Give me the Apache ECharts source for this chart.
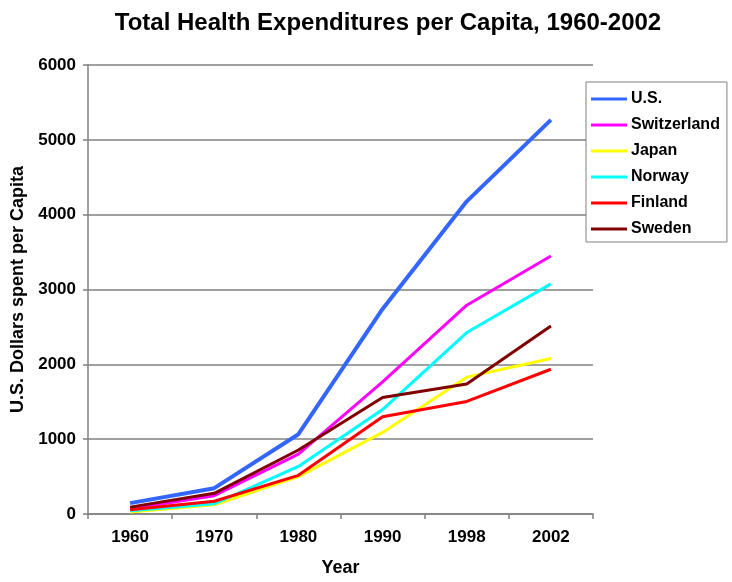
<!DOCTYPE html>
<html><head><meta charset="utf-8">
<script src="https://cdn.jsdelivr.net/npm/echarts@6/dist/echarts.min.js"></script>
<style>html,body{margin:0;padding:0;background:#fff}#c{width:732px;height:582px}</style>
</head><body><div id="c"></div>
<script>
const years = ['1960','1970','1980','1990','1998','2002'];
const usValues = [145, 345, 1066, 2740, 4178, 5267];
const switzerlandValues = [70, 245, 800, 1767, 2790, 3447];
const japanValues = [26, 123, 500, 1090, 1829, 2079];
const norwayValues = [43, 136, 636, 1395, 2425, 3075];
const finlandValues = [57, 171, 517, 1300, 1504, 1934];
const swedenValues = [92, 276, 855, 1557, 1737, 2513];
const yTicks = [0, 1000, 2000, 3000, 4000, 5000, 6000];

const font = 'Liberation Sans, Arial, sans-serif';
const mk = (name, data, color, width) => ({
  name, type: 'line', data, symbol: 'none', showSymbol: false,
  lineStyle: { color, width }, itemStyle: { color }, z: 3
});
const chart = echarts.init(document.getElementById('c'));
chart.setOption({
  animation: false,
  title: { text: 'Total Health Expenditures per Capita, 1960-2002', left: 383, textAlign: 'center', top: 6,
    textStyle: { fontFamily: font, fontWeight: 'bold', fontSize: 24, color: '#000' } },
  grid: { left: 88, right: 139, top: 65, bottom: 61 },
  legend: {
    orient: 'vertical', left: 586, top: 82, icon: 'rect', itemWidth: 36, itemHeight: 3, itemGap: 10,
    padding: [9, 7, 5, 5], borderColor: '#808080', borderWidth: 1, backgroundColor: '#fff',
    textStyle: { fontFamily: font, fontWeight: 'bold', fontSize: 16, color: '#000', padding: [0, 0, 0, -1] },
    data: ['U.S.', 'Switzerland', 'Japan', 'Norway', 'Finland', 'Sweden']
  },
  xAxis: {
    type: 'category', data: years, boundaryGap: true,
    name: 'Year', nameLocation: 'middle', nameGap: 45,
    nameTextStyle: { fontFamily: font, fontWeight: 'bold', fontSize: 18, color: '#000' },
    axisLine: { lineStyle: { color: '#808080', width: 1.5 } },
    axisTick: { show: true, length: 5, lineStyle: { color: '#808080', width: 1.5 } },
    axisLabel: { fontFamily: font, fontWeight: 'bold', fontSize: 17, color: '#000', margin: 15 }
  },
  yAxis: {
    type: 'value', min: yTicks[0], max: yTicks[yTicks.length - 1], interval: 1000,
    name: 'U.S. Dollars spent per Capita', nameLocation: 'middle', nameGap: 59,
    nameTextStyle: { fontFamily: font, fontWeight: 'bold', fontSize: 18, color: '#000' },
    axisLine: { show: true, lineStyle: { color: '#808080', width: 1.5 } },
    axisTick: { show: true, length: 5, lineStyle: { color: '#808080', width: 1.5 } },
    splitLine: { lineStyle: { color: '#808080', width: 1.5 } },
    axisLabel: { fontFamily: font, fontWeight: 'bold', fontSize: 17, color: '#000', margin: 12,
      formatter: v => String(v) }
  },
  series: [
    mk('U.S.', usValues, '#3366ff', 4),
    mk('Switzerland', switzerlandValues, '#ff00ff', 3),
    mk('Japan', japanValues, '#ffff00', 3),
    mk('Norway', norwayValues, '#00ffff', 3),
    mk('Finland', finlandValues, '#ff0000', 3),
    mk('Sweden', swedenValues, '#800000', 3)
  ]
});
</script></body></html>
